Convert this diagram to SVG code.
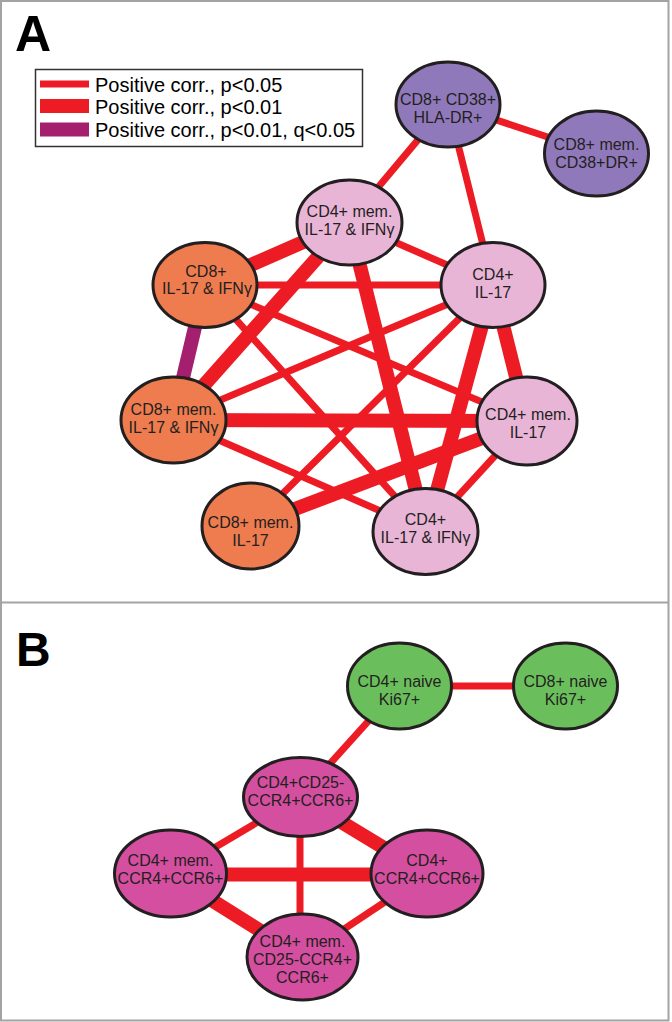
<svg xmlns="http://www.w3.org/2000/svg" width="672" height="1022" viewBox="0 0 672 1022">
<style>
.frame{fill:none;stroke:#a3a3a3;stroke-width:2}
.e{stroke:#ed1c24;stroke-linecap:butt;fill:none}
.t1{stroke-width:7}
.t2{stroke-width:14}
.q{stroke:#a51f6f}
.n{stroke:#231f20;stroke-width:3}
.or{fill:#ee7c4f}
.pk{fill:#e9b5d7}
.pu{fill:#9079ba}
.gr{fill:#6abf5c}
.mg{fill:#d44f9f}
text{font-family:"Liberation Sans",Arial,Helvetica,sans-serif;fill:#231f20}
.lab{font-size:16px;text-anchor:middle}
.labb{font-size:16px;text-anchor:middle}
.panel{font-size:50px;font-weight:bold;fill:#000}
.leg{font-size:20px;fill:#000}
</style>
<rect x="0" y="0" width="672" height="1022" fill="#fff"/>
<rect class="frame" x="1" y="1" width="667.5" height="1019.5"/>
<line class="frame" x1="1" y1="602.5" x2="668.5" y2="602.5"/>
<text class="panel" x="15" y="51">A</text>
<text class="panel" x="16" y="666" style="font-size:48px">B</text>
<g id="legend">
<rect x="35.5" y="69.5" width="327" height="77" fill="#fff" stroke="#333" stroke-width="1.5"/>
<line class="e t1" x1="40" y1="84" x2="89" y2="84"/>
<line class="e t2" x1="40" y1="106" x2="89" y2="106"/>
<line class="e t2 q" x1="40" y1="129.5" x2="89" y2="129.5"/>
<text class="leg" x="95" y="92">Positive corr., p&lt;0.05</text>
<text class="leg" x="95" y="114">Positive corr., p&lt;0.01</text>
<text class="leg" x="95" y="137">Positive corr., p&lt;0.01, q&lt;0.05</text>
</g>
<g id="connectors">
<line class="e t1" x1="448" y1="104" x2="596" y2="153"/>
<line class="e t1" x1="448" y1="104" x2="349" y2="222"/>
<line class="e t1" x1="448" y1="104" x2="493" y2="285"/>
<line class="e t2" x1="349" y1="222" x2="205" y2="285"/>
<line class="e t1" x1="349" y1="222" x2="493" y2="285"/>
<line class="e t2" x1="349" y1="222" x2="173" y2="420"/>
<line class="e t2" x1="349" y1="222" x2="426" y2="531"/>
<line class="e t1" x1="205" y1="285" x2="493" y2="285"/>
<line class="e t1" x1="205" y1="285" x2="527" y2="421"/>
<line class="e t1" x1="205" y1="285" x2="426" y2="531"/>
<line class="e t2 q" x1="205" y1="285" x2="173" y2="420"/>
<line class="e t1" x1="493" y1="285" x2="173" y2="420"/>
<line class="e t1" x1="493" y1="285" x2="250" y2="526"/>
<line class="e t2" x1="493" y1="285" x2="426" y2="531"/>
<line class="e t2" x1="493" y1="285" x2="527" y2="421"/>
<line class="e t2" x1="173" y1="420" x2="527" y2="421"/>
<line class="e t1" x1="173" y1="420" x2="426" y2="531"/>
<line class="e t2" x1="250" y1="526" x2="527" y2="421"/>
<line class="e t1" x1="426" y1="531" x2="527" y2="421"/>
<line class="e t1" x1="400" y1="686" x2="566" y2="686"/>
<line class="e t1" x1="400" y1="686" x2="300" y2="797"/>
<line class="e t1" x1="300" y1="797" x2="170" y2="874"/>
<line class="e t2" x1="300" y1="797" x2="427" y2="874"/>
<line class="e t1" x1="300" y1="797" x2="300" y2="957"/>
<line class="e t2" x1="170" y1="874.5" x2="427" y2="874.5"/>
<line class="e t2" x1="170" y1="874" x2="302" y2="957"/>
<line class="e t1" x1="427" y1="874" x2="302" y2="957"/>
</g>
<g id="n1"><ellipse class="n pu" cx="448" cy="104.5" rx="52" ry="42.5"/><text class="lab" x="448" y="105">CD8+ CD38+</text><text class="lab" x="448" y="123">HLA-DR+</text></g>
<g id="n2"><ellipse class="n pu" cx="596.5" cy="153.5" rx="52" ry="42.5"/><text class="lab" x="596.5" y="150">CD8+ mem.</text><text class="lab" x="596.5" y="168">CD38+DR+</text></g>
<g id="n3"><ellipse class="n pk" cx="349.5" cy="222.5" rx="52.5" ry="42.5"/><text class="lab" x="349.5" y="217">CD4+ mem.</text><text class="lab" x="349.5" y="235">IL-17 &amp; IFNγ</text></g>
<g id="n4"><ellipse class="n or" cx="205" cy="285" rx="52" ry="42.5"/><text class="lab" x="206" y="277">CD8+</text><text class="lab" x="207" y="294">IL-17 &amp; IFNγ</text></g>
<g id="n5"><ellipse class="n pk" cx="493" cy="285" rx="52" ry="42.5"/><text class="lab" x="493" y="280">CD4+</text><text class="lab" x="493" y="298">IL-17</text></g>
<g id="n6"><ellipse class="n or" cx="173.5" cy="420" rx="52.5" ry="43"/><text class="lab" x="173.5" y="415">CD8+ mem.</text><text class="lab" x="173.5" y="433">IL-17 &amp; IFNγ</text></g>
<g id="n7"><ellipse class="n pk" cx="527" cy="421" rx="50" ry="44"/><text class="lab" x="528" y="420">CD4+ mem.</text><text class="lab" x="528" y="438">IL-17</text></g>
<g id="n8"><ellipse class="n or" cx="250.5" cy="526" rx="48.5" ry="43"/><text class="lab" x="250.5" y="528">CD8+ mem.</text><text class="lab" x="250.5" y="546">IL-17</text></g>
<g id="n9"><ellipse class="n pk" cx="425.5" cy="531.5" rx="52.5" ry="43"/><text class="lab" x="425.5" y="525">CD4+</text><text class="lab" x="425.5" y="543">IL-17 &amp; IFNγ</text></g>
<g id="b1"><ellipse class="n gr" cx="399.5" cy="686" rx="52" ry="43"/><text class="labb" x="399.5" y="687">CD4+ naive</text><text class="labb" x="399.5" y="705">Ki67+</text></g>
<g id="b2"><ellipse class="n gr" cx="565.5" cy="686" rx="52" ry="43"/><text class="labb" x="565.5" y="687">CD8+ naive</text><text class="labb" x="565.5" y="705">Ki67+</text></g>
<g id="b3"><ellipse class="n mg" cx="300.5" cy="797" rx="57" ry="39.5"/><text class="labb" x="300.5" y="788">CD4+CD25-</text><text class="labb" x="300.5" y="806">CCR4+CCR6+</text></g>
<g id="b4"><ellipse class="n mg" cx="170.5" cy="873.5" rx="56" ry="43.5"/><text class="labb" x="170.5" y="866">CD4+ mem.</text><text class="labb" x="170.5" y="884">CCR4+CCR6+</text></g>
<g id="b5"><ellipse class="n mg" cx="427" cy="873.5" rx="56" ry="43.5"/><text class="labb" x="427" y="866">CD4+</text><text class="labb" x="427" y="884">CCR4+CCR6+</text></g>
<g id="b6"><ellipse class="n mg" cx="302.5" cy="957" rx="55.5" ry="43"/><text class="labb" x="302.5" y="947">CD4+ mem.</text><text class="labb" x="302.5" y="965">CD25-CCR4+</text><text class="labb" x="302.5" y="983">CCR6+</text></g>
</svg>
